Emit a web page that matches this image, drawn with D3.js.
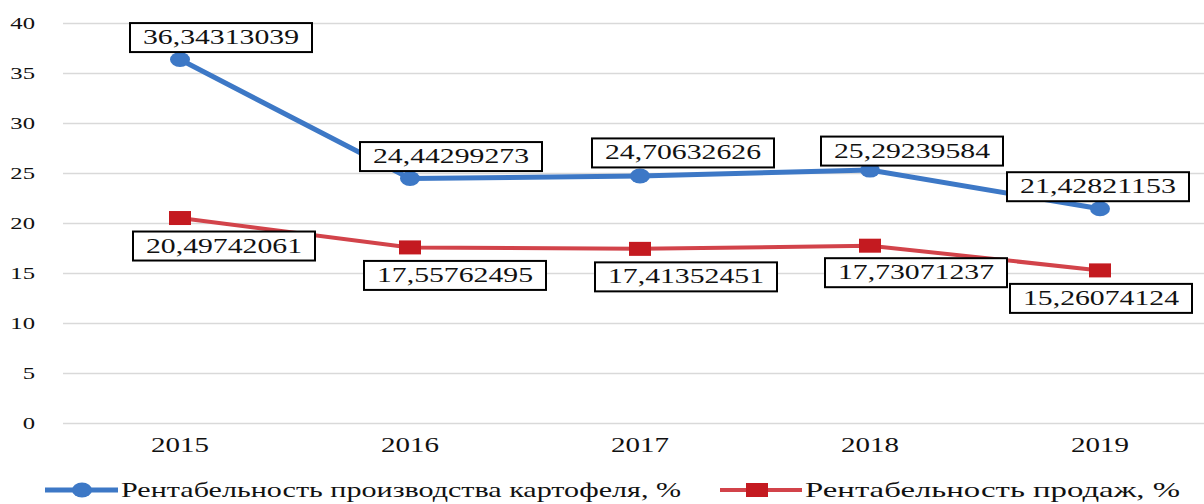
<!DOCTYPE html>
<html>
<head>
<meta charset="utf-8">
<script src="https://cdn.jsdelivr.net/npm/d3@7"></script>
<style>
  body { margin: 0; background: #fff; }
  #chart { position: relative; width: 1204px; height: 504px; }
  #chart svg { position: absolute; left: 0; top: 0; display: block; }
  .lbl { position: absolute; white-space: nowrap; line-height: 1; color: #111;
         font-family: "Liberation Serif", "Times New Roman", serif; }
</style>
</head>
<body>
<div id="chart"></div>
<script>
const years = ['2015', '2016', '2017', '2018', '2019']
const potatoValues = [36.34313039, 24.44299273, 24.70632626, 25.29239584, 21.42821153]
const salesValues = [20.49742061, 17.55762495, 17.41352451, 17.73071237, 15.26074124]
const yTicks = [0, 5, 10, 15, 20, 25, 30, 35, 40]
const seriesNames = ['Рентабельность производства картофеля, %', 'Рентабельность продаж, %']

// label box offsets from their point (layout only)
const potatoOffsets = [[41, -22], [41, -22], [43, -23], [42, -19], [-2, -22]]
const salesOffsets = [[44, 28], [45, 28], [46, 28], [46, 27], [1, 28]]

const width = 1204
const height = 504
const stretch = 1.45   // the picture is stretched sideways
const blue = '#3d78c6'
const red = '#d2434a'
const redMark = '#c41a20'

const container = d3.select('#chart')
const svg = container.append('svg')
    .attr('width', width)
    .attr('height', height)
const textLayer = container.append('div')

const x = d3.scalePoint().domain(years).range([180, 1100])
const y = d3.scaleLinear().domain([0, 40]).range([423, 23])

const fmt = v => v.toFixed(8).replace('.', ',')

// html text, centred vertically on cy; fitWidth squeezes/stretches to a width
const shift = { start: 0, middle: -50, end: -100 }
const addText = (txt, px, cy, anchor, size, fitWidth) => {
    const el = textLayer.append('div')
        .attr('class', 'lbl')
        .style('left', px + 'px')
        .style('top', (cy - size * 0.5) + 'px')
        .style('font-size', size + 'px')
        .style('transform-origin', '0 50%')
        .text(txt)
    const w = el.node().getBoundingClientRect().width
    const k = fitWidth && w > 0 ? fitWidth / w : stretch
    el.style('transform', `scaleX(${k}) translateX(${shift[anchor]}%)`)
}

// grid
const yAxis = d3.axisLeft(y).tickValues(yTicks).tickSize(-(width - 63)).tickFormat('')
const gy = svg.append('g')
    .attr('transform', 'translate(63,0)')
    .call(yAxis)
gy.select('.domain').remove()
gy.selectAll('.tick line').attr('stroke', '#d9d9d9').attr('stroke-width', 1.5)
yTicks.forEach(t => addText(String(t), 35, y(t), 'end', 17))

// x labels
years.forEach(yr => addText(yr, x(yr), 445, 'middle', 20))

const line = d3.line().x((d, i) => x(years[i])).y(d => y(d))

svg.append('path')
    .datum(salesValues)
    .attr('d', line)
    .attr('fill', 'none')
    .attr('stroke', red)
    .attr('stroke-width', 4)

svg.append('path')
    .datum(potatoValues)
    .attr('d', line)
    .attr('fill', 'none')
    .attr('stroke', blue)
    .attr('stroke-width', 5)

svg.selectAll('.mk-blue')
    .data(potatoValues)
    .enter()
    .append('ellipse')
    .attr('cx', (d, i) => x(years[i]))
    .attr('cy', d => y(d))
    .attr('rx', 10)
    .attr('ry', 7.5)
    .attr('fill', blue)

svg.selectAll('.mk-red')
    .data(salesValues)
    .enter()
    .append('rect')
    .attr('x', (d, i) => x(years[i]) - 11)
    .attr('y', d => y(d) - 7)
    .attr('width', 22)
    .attr('height', 14)
    .attr('fill', redMark)

// data labels
const drawLabels = (values, offsets) => {
    values.forEach((v, i) => {
        const cx = x(years[i]) + offsets[i][0]
        const cy = y(v) + offsets[i][1]
        svg.append('rect')
            .attr('x', cx - 91)
            .attr('y', cy - 14.5)
            .attr('width', 182)
            .attr('height', 29)
            .attr('fill', '#fff')
            .attr('stroke', '#000')
            .attr('stroke-width', 2)
        addText(fmt(v), cx, cy, 'middle', 21, 156)
    })
}
drawLabels(potatoValues, potatoOffsets)
drawLabels(salesValues, salesOffsets)

// legend
svg.append('line').attr('x1', 45).attr('x2', 118).attr('y1', 490).attr('y2', 490)
    .attr('stroke', blue).attr('stroke-width', 5)
svg.append('ellipse').attr('cx', 82).attr('cy', 490).attr('rx', 10).attr('ry', 7.5).attr('fill', blue)
addText(seriesNames[0], 121, 490, 'start', 21, 560)

svg.append('line').attr('x1', 720).attr('x2', 802).attr('y1', 490).attr('y2', 490)
    .attr('stroke', red).attr('stroke-width', 4)
svg.append('rect').attr('x', 746).attr('y', 483).attr('width', 22).attr('height', 14).attr('fill', redMark)
addText(seriesNames[1], 805, 490, 'start', 21, 375)
</script>
</body>
</html>
